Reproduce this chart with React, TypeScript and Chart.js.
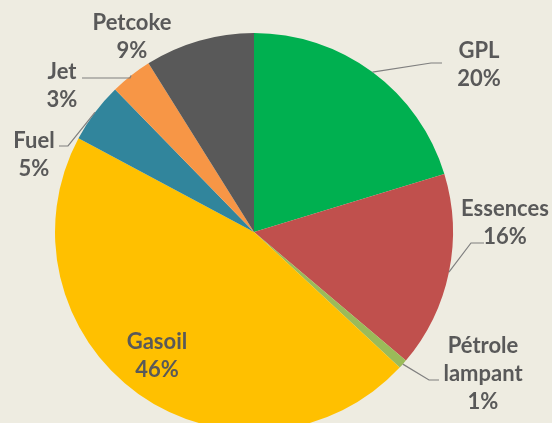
import React, { useEffect, useRef } from "react";
import { Chart, registerables } from "chart.js";

Chart.register(...registerables);

const categories = ["GPL", "Essences", "Pétrole lampant", "Gasoil", "Fuel", "Jet", "Petcoke"];
const shares = [20.3, 15.9, 0.75, 45.9, 4.9, 3.4, 8.9];
const colors = ["#00B050", "#C0504D", "#9BBB59", "#FFC000", "#31859C", "#F79646", "#595959"];

// label text lines (name split as in the picture)
const labelLines = [["GPL"], ["Essences"], ["Pétrole", "lampant"], ["Gasoil"], ["Fuel"], ["Jet"], ["Petcoke"]];
// label first-line centre, relative to pie centre (px)
const labelOffsets = [
  [225, -181],
  [251, -23],
  [229, 114],
  [-97, 110],
  [-220, -91],
  [-192, -160],
  [-122, -209],
];
// leader lines: elbow and end, relative to pie centre (null = no leader)
const leaderPts: (number[][] | null)[] = [
  [[177, -169], [188, -169]],
  [[217, 11], [230, 11]],
  [[175, 148], [185, 148]],
  null,
  [[-186, -86], [-195, -86]],
  [[-124, -154], [-172, -154]],
  null,
];

const TEXT = "#595959";
const FONT = "bold 22px Lato";
const LINE_H = 28;

const labelPlugin = {
  id: "pieLabels",
  afterDatasetsDraw(chart: any) {
    const ctx = chart.ctx;
    const meta = chart.getDatasetMeta(0);
    const total = shares.reduce((a, b) => a + b, 0);
    ctx.save();
    ctx.font = FONT;
    ctx.fillStyle = TEXT;
    ctx.textAlign = "center";
    ctx.textBaseline = "middle";
    meta.data.forEach((arc: any, i: number) => {
      const { x, y, startAngle, endAngle, outerRadius } = arc.getProps(
        ["x", "y", "startAngle", "endAngle", "outerRadius"],
        true
      );
      const mid = (startAngle + endAngle) / 2;
      const sx = x + Math.cos(mid) * outerRadius;
      const sy = y + Math.sin(mid) * outerRadius;
      const lp = leaderPts[i];
      if (lp) {
        ctx.beginPath();
        ctx.strokeStyle = "#7F7F7F";
        ctx.lineWidth = 1.2;
        ctx.moveTo(sx, sy);
        lp.forEach((p) => ctx.lineTo(x + p[0], y + p[1]));
        ctx.stroke();
      }
      const pct = Math.round((shares[i] / total) * 100) + "%";
      const lines = [...labelLines[i], pct];
      const [ox, oy] = labelOffsets[i];
      lines.forEach((t, k) => {
        ctx.fillText(t, x + ox, y + oy + k * LINE_H);
      });
    });
    ctx.restore();
  },
};

export default function App() {
  const ref = useRef<HTMLCanvasElement>(null);
  useEffect(() => {
    const chart = new Chart(ref.current!, {
      type: "pie",
      data: {
        labels: categories,
        datasets: [
          {
            data: shares,
            backgroundColor: colors,
            borderWidth: 0,
          },
        ],
      },
      options: {
        animation: false,
        responsive: false,
        maintainAspectRatio: false,
        layout: { padding: { left: 55, right: 99, top: 33, bottom: 0 } },
        plugins: {
          legend: { display: false },
          tooltip: { enabled: false },
        },
      },
      plugins: [labelPlugin],
    });
    return () => chart.destroy();
  }, []);
  return (
    <div
      style={{
        position: "fixed",
        left: 0,
        top: 0,
        width: 552,
        height: 423,
        overflow: "hidden",
        background: "#EEECE1",
      }}
    >
      <canvas ref={ref} width={552} height={431} style={{ display: "block" }} />
    </div>
  );
}
